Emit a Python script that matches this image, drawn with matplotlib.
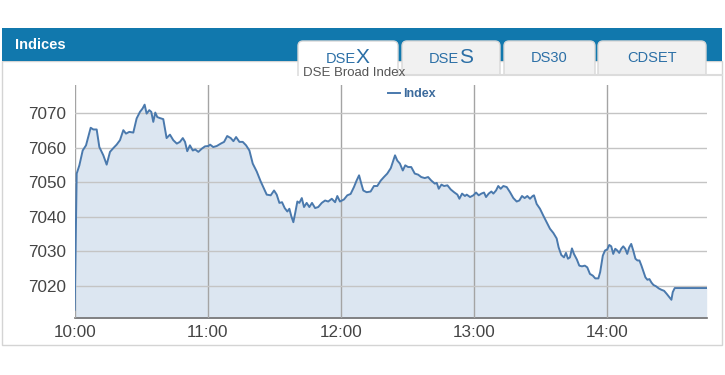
import matplotlib
matplotlib.use("Agg")
import matplotlib.pyplot as plt
from matplotlib.patches import Rectangle, FancyBboxPatch

# minutes after 10:00 and DSEX index values
minutes = [
    0.0, 0.9, 2.1, 3.6, 5.1, 6.1, 7.2, 8.4, 9.9, 11.1, 12.9, 14.4, 15.9, 17.4,
    18.9, 20.4, 21.9, 23.1, 24.6, 26.4, 27.9, 29.4, 30.6, 31.5, 32.4, 33.6,
    34.5, 35.4, 36.3, 37.2, 38.4, 39.9, 41.4, 42.9, 44.4, 46.0, 47.4, 48.7,
    49.7, 50.7, 51.9, 53.2, 54.3, 55.7, 57.2, 58.7, 60.2, 61.0, 62.4, 64.0,
    65.8, 67.3, 68.7, 70.3, 71.5, 72.7, 74.2, 75.7, 77.2, 78.7, 80.2, 82.0,
    83.8, 85.3, 86.5, 88.3, 89.8, 91.0, 92.2, 93.4, 94.6, 95.8, 96.7, 97.6,
    98.5, 99.4, 100.3, 101.2, 102.3, 103.3, 104.5, 105.7, 106.9, 108.3, 109.7,
    111.3, 112.8, 114.2, 115.8, 117.3, 118.3, 119.5, 121.3, 122.8, 124.3,
    125.8, 127.0, 128.1, 129.1, 130.0, 131.5, 133.3, 134.8, 136.3, 137.9,
    139.3, 140.8, 142.4, 143.5, 144.3, 145.3, 146.5, 147.8, 148.9, 150.2,
    151.6, 153.2, 154.7, 156.1, 157.7, 159.2, 160.6, 162.2, 163.1, 164.0,
    165.2, 166.4, 167.9, 169.4, 170.9, 172.4, 173.3, 174.5, 175.8, 176.6,
    178.1, 179.6, 180.8, 182.0, 183.2, 184.4, 185.3, 186.5, 187.7, 188.6,
    189.8, 190.8, 191.9, 193.1, 194.6, 196.1, 197.6, 199.1, 200.3, 201.5,
    202.7, 203.9, 205.1, 206.3, 206.9, 208.1, 209.6, 211.1, 212.6, 214.1,
    215.6, 217.1, 218.0, 219.2, 220.4, 221.3, 222.2, 223.1, 224.0, 224.9,
    226.2, 227.3, 228.5, 229.8, 230.9, 232.1, 233.4, 234.5, 235.9, 236.7,
    237.9, 238.9, 239.9, 240.8, 241.7, 242.6, 243.5, 244.4, 245.3, 246.2,
    247.1, 248.0, 248.9, 249.8, 250.7, 251.6, 252.6, 253.5, 254.4, 255.3,
    256.2, 257.1, 258.0, 258.9, 259.8, 260.7, 261.9, 263.1, 264.3, 265.5,
    266.7, 267.9, 268.8, 269.4, 270.3, 284.7,
]
index_values = [
    7013.0, 7052.5, 7054.9, 7059.2, 7060.7, 7063.1, 7065.8, 7065.3, 7065.3,
    7060.2, 7057.8, 7055.1, 7058.8, 7059.9, 7060.9, 7062.2, 7065.1, 7064.1,
    7064.6, 7064.4, 7068.5, 7070.4, 7071.4, 7072.5, 7069.9, 7070.9, 7070.4,
    7067.5, 7070.2, 7068.9, 7068.6, 7068.3, 7062.8, 7063.8, 7062.2, 7061.2,
    7061.7, 7062.8, 7061.7, 7059.0, 7060.7, 7059.2, 7059.5, 7058.8, 7059.7,
    7060.4, 7060.5, 7060.9, 7060.2, 7060.5, 7061.2, 7061.7, 7063.4, 7062.8,
    7061.9, 7063.1, 7061.7, 7061.7, 7060.7, 7059.2, 7055.4, 7053.1, 7050.2,
    7048.1, 7046.4, 7046.2, 7047.6, 7046.4, 7044.0, 7044.2, 7042.5, 7041.5,
    7042.3, 7040.1, 7038.4, 7041.3, 7044.4, 7044.0, 7045.4, 7042.8, 7044.0,
    7042.8, 7044.0, 7042.5, 7042.8, 7044.0, 7044.7, 7044.4, 7045.2, 7044.2,
    7046.0, 7044.4, 7045.0, 7046.2, 7046.6, 7048.6, 7050.5, 7052.0, 7049.6,
    7047.6, 7047.1, 7047.3, 7048.9, 7048.9, 7050.5, 7051.5, 7052.5, 7054.1,
    7056.3, 7057.8, 7056.3, 7055.4, 7053.4, 7054.9, 7054.4, 7054.4, 7052.5,
    7052.2, 7051.5, 7051.2, 7051.5, 7050.5, 7049.6, 7049.8, 7048.1, 7049.3,
    7048.9, 7049.1, 7047.9, 7047.1, 7046.4, 7045.2, 7046.7, 7046.0, 7046.4,
    7045.7, 7046.2, 7047.0, 7046.2, 7046.7, 7047.0, 7045.7, 7046.7, 7047.3,
    7046.7, 7047.6, 7048.9, 7048.1, 7048.9, 7048.6, 7047.1, 7045.4, 7044.4,
    7044.7, 7046.0, 7045.4, 7046.0, 7045.2, 7046.0, 7046.2, 7043.7, 7042.3,
    7040.3, 7038.4, 7036.5, 7035.3, 7033.7, 7031.1, 7028.9, 7028.2, 7029.5,
    7027.8, 7028.2, 7030.8, 7029.2, 7027.6, 7025.8, 7025.6, 7025.8, 7025.3,
    7023.4, 7022.9, 7022.1, 7022.1, 7023.9, 7028.7, 7030.2, 7030.5, 7031.8,
    7031.4, 7029.2, 7030.7, 7030.2, 7029.5, 7030.7, 7031.4, 7030.7, 7029.2,
    7031.1, 7032.1, 7030.2, 7027.8, 7027.3, 7027.3, 7025.8, 7024.1, 7022.4,
    7021.7, 7021.9, 7020.9, 7020.2, 7019.8, 7019.2, 7018.8, 7018.5, 7017.6,
    7016.6, 7015.9, 7018.1, 7019.3, 7019.3,
]

hour_ticks = [0, 60, 120, 180, 240]
hour_labels = ["10:00", "11:00", "12:00", "13:00", "14:00"]
value_ticks = [7020, 7030, 7040, 7050, 7060, 7070]

tabs = ["DSEX", "DSES", "DS30", "CDSET"]

W, H = 725, 375
sans = ["Liberation Sans", "DejaVu Sans"]

fig = plt.figure(figsize=(W / 100, H / 100), dpi=100)
fig.patch.set_facecolor("white")

# page decoration drawn in pixel coordinates
bg = fig.add_axes([0, 0, 1, 1], zorder=0)
bg.set_xlim(0, W)
bg.set_ylim(H, 0)
bg.axis("off")

bg.add_patch(Rectangle((2, 61), 720, 284, facecolor="white",
                       edgecolor="#d4d4d4", lw=1))
bg.add_patch(Rectangle((2, 28), 720, 33, facecolor="#1178ad", edgecolor="none"))
bg.text(15, 45, "Indices", color="white", fontsize=10.5, fontweight="bold",
        family=sans, va="center", ha="left")

# tab strip
tab_boxes = [(298, 398), (402, 500), (504, 595), (598, 706)]
for i, (x0, x1) in enumerate(tab_boxes):
    face = "white" if i == 0 else "#f1f1f1"
    bg.add_patch(FancyBboxPatch((x0, 41), x1 - x0, 42,
                                boxstyle="round,pad=0,rounding_size=5",
                                facecolor=face, edgecolor="#d8d8d8", lw=1))
# hide the lower part of the tabs
bg.add_patch(Rectangle((290, 75.5), 425, 12, facecolor="white",
                       edgecolor="none", zorder=3))
bg.plot([398, 722], [75, 75], color="#dcdcdc", lw=1.5, zorder=4)

tab_color = "#2b6fa6"
for (x0, x1), name in zip(tab_boxes, tabs):
    cx = (x0 + x1) / 2
    if name in ("DSEX", "DSES"):
        bg.text(cx + 8, 63, name[:3], color=tab_color, fontsize=10.5,
                family=sans, ha="right", va="baseline", zorder=5)
        bg.text(cx + 8, 63, name[3], color=tab_color, fontsize=15,
                family=sans, ha="left", va="baseline", zorder=5)
    else:
        bg.text(cx, 62, name, color=tab_color, fontsize=10.5,
                family=sans, ha="center", va="baseline", zorder=5)

bg.text(354, 72.5, "DSE Broad Index", color="#555555", fontsize=9.5,
        family=sans, ha="center", va="center", zorder=6)

# chart
ax = fig.add_axes([74.7 / W, 1 - 317.7 / H, (706.7 - 74.7) / W,
                   (317.7 - 85) / H], zorder=1)
ax.patch.set_alpha(0)
ax.fill_between(minutes, index_values, 7000, color="#dce6f1", lw=0, zorder=1)
ax.plot(minutes, index_values, color="#4a79ad", lw=1.4, zorder=3,
        label="Index")

ax.set_xlim(0, 284.7)
ax.set_ylim(7010.7, 7078.2)
ax.set_xticks(hour_ticks)
ax.set_xticklabels(hour_labels)
ax.set_yticks(value_ticks)
ax.tick_params(length=0, labelsize=12.3, labelcolor="#444444")
ax.tick_params(axis="y", pad=6)
ax.tick_params(axis="x", pad=5)
for lab in ax.get_xticklabels() + ax.get_yticklabels():
    lab.set_family(sans)

ax.grid(axis="y", color="#c4c4c4", lw=1, zorder=2)
ax.grid(axis="x", color="#a4a4a4", lw=1, zorder=2)
ax.set_axisbelow(False)
for side in ("top", "right", "left"):
    ax.spines[side].set_visible(False)
ax.spines["bottom"].set_color("#707070")
ax.spines["bottom"].set_linewidth(1.2)

leg = ax.legend(loc="upper center", bbox_to_anchor=(0.534, 1.025), frameon=False,
                handlelength=0.9, handletextpad=0.3, borderpad=0.2,
                prop={"family": sans, "size": 9, "weight": "bold"})
for t in leg.get_texts():
    t.set_color("#3b6a9c")

fig.savefig("out.png", dpi=100)
